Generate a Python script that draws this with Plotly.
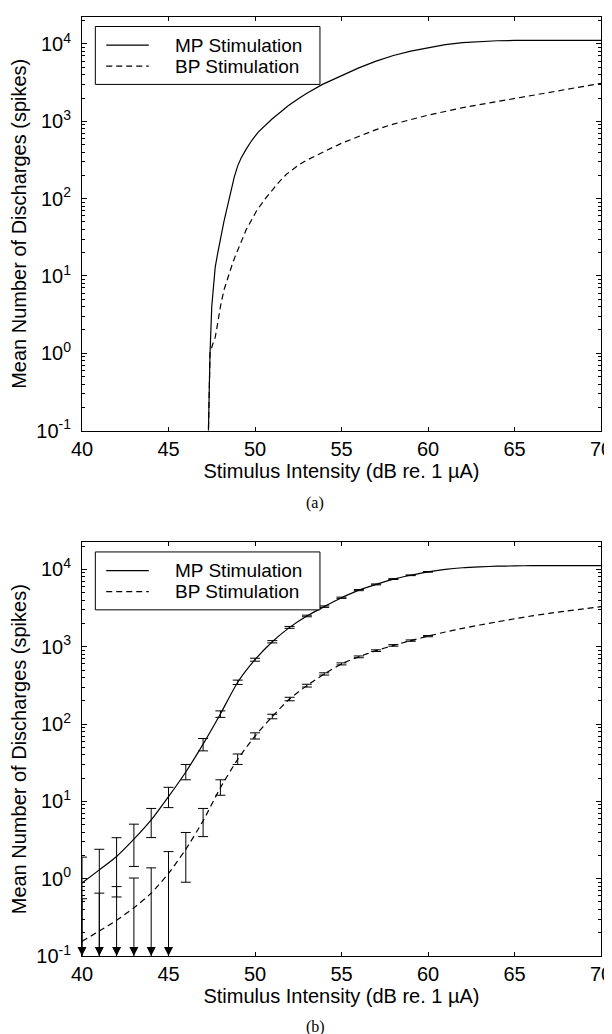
import plotly.graph_objects as go

# ---------------- data ----------------
# panel (a): deterministic-model curves
a_mp_x = [47.30, 47.35, 47.40, 47.50, 47.60, 47.70, 47.85, 48.00, 48.20, 48.40, 48.60, 48.80,
          49.00, 49.20, 49.50, 49.80, 50.20, 50.60, 51.00, 51.50, 51.90, 52.50, 53.00, 53.90,
          55.00, 56.00, 57.00, 58.00, 59.00, 60.00, 61.00, 62.00, 63.00, 64.00, 65.00, 70.00]
a_mp_y = [0.08, 0.3, 1.0, 4.0, 8.0, 13, 20, 30, 50, 78, 125, 190,
          265, 335, 440, 560, 730, 900, 1080, 1330, 1580, 1950, 2300, 3000,
          3900, 4900, 6000, 7100, 8100, 9000, 9800, 10400, 10800, 11000, 11100, 11100]
a_bp_x = [47.30, 47.35, 47.40, 47.55, 47.70, 47.85, 48.00, 48.20, 48.45, 48.70, 48.90, 49.20,
          49.50, 49.80, 50.10, 50.60, 51.00, 51.40, 51.80, 52.20, 52.60, 53.00, 53.50, 53.90,
          54.50, 55.00, 56.00, 57.00, 58.00, 59.00, 60.00, 62.00, 64.00, 66.00, 68.00, 70.00]
a_bp_y = [0.08, 0.4, 1.0, 1.3, 1.6, 2.5, 4.0, 6.5, 10, 14.5, 19, 28,
          40, 53, 70, 100, 130, 165, 205, 240, 280, 315, 360, 400,
          460, 520, 640, 780, 920, 1060, 1200, 1500, 1800, 2150, 2550, 3100]

# panel (b): stochastic-model curves with error bars
b_x = list(range(40, 71))
b_mp = [0.88, 1.30, 1.94, 3.24, 5.75, 11.5, 24, 55, 135, 347, 680, 1160, 1780, 2500, 3300,
        4300, 5400, 6400, 7500, 8400, 9300, 10000, 10500, 10800, 11000, 11100, 11200, 11200,
        11200, 11200, 11200]
b_bp = [0.155, 0.21, 0.29, 0.42, 0.65, 1.17, 2.4, 5.6, 15, 35, 70, 125, 211, 314, 444,
        600, 740, 890, 1040, 1200, 1370, 1550, 1730, 1910, 2100, 2300, 2500, 2700, 2900,
        3080, 3300]

bar_x = list(range(40, 61))
# upper / lower ends of the error bars (None = lower end below zero, drawn as arrow)
b_mp_hi = [1.9, 2.4, 3.39, 5.07, 8.1, 15.2, 30, 65, 148, 370, 710, 1200, 1830, 2560, 3370,
           4380, 5490, 6490, 7590, 8490, 9390]
b_mp_lo = [None, None, 0.58, 1.44, 3.4, 8.3, 19, 45, 122, 325, 650, 1120, 1730, 2440, 3230,
           4220, 5310, 6310, 7410, 8310, 9210]
b_bp_hi = [0.55, 0.65, 0.79, 1.02, 1.38, 2.24, 3.96, 8.1, 19, 41, 77, 134, 222, 327, 460,
           618, 760, 912, 1065, 1225, 1395]
b_bp_lo = [None, None, None, None, None, None, 0.90, 3.5, 12, 30, 64, 117, 200, 301, 430,
           582, 720, 868, 1015, 1175, 1345]

series_names = ["MP Stimulation", "BP Stimulation"]
panel_labels = ["(a)", "(b)"]
x_tickvals = [40, 45, 50, 55, 60, 65, 70]
y_tickvals = [0.1, 1, 10, 100, 1000, 10000]
y_ticktext = ["10<sup>-1</sup>", "10<sup>0</sup>", "10<sup>1</sup>", "10<sup>2</sup>",
              "10<sup>3</sup>", "10<sup>4</sup>"]

# ---------------- layout geometry ----------------
W, H = 612, 1034
ML, MR, MT, MB = 74, 13, 8, 86
PW, PH = W - ML - MR, H - MT - MB
PLOT_H = 414
Y_RANGE = [-1, -1 + PLOT_H / 77.4]
X_RANGE = [40, 70]
FONT = "Liberation Sans, Arial, Helvetica, sans-serif"


def py2paper(py):
    return 1 - (py - MT) / PH


def px2paper(px):
    return (px - ML) / PW


top_dom = [1 - PLOT_H / PH, 1.0]
bot_dom = [0.0, PLOT_H / PH]

fig = go.Figure()

solid = dict(color="black", width=1.2)
dashed = dict(color="black", width=1.2, dash="6px,4px")

# panel (a)
fig.add_trace(go.Scatter(x=a_mp_x, y=a_mp_y, mode="lines", line=solid, name=series_names[0],
                         showlegend=False, xaxis="x", yaxis="y"))
fig.add_trace(go.Scatter(x=a_bp_x, y=a_bp_y, mode="lines", line=dashed, name=series_names[1],
                         showlegend=False, xaxis="x", yaxis="y"))

# panel (b) lines
fig.add_trace(go.Scatter(x=b_x, y=b_mp, mode="lines", line=dict(solid, shape="spline", smoothing=0.6),
                         name=series_names[0], showlegend=False, xaxis="x2", yaxis="y2"))
fig.add_trace(go.Scatter(x=b_x, y=b_bp, mode="lines", line=dict(dashed, shape="spline", smoothing=0.6),
                         name=series_names[1], showlegend=False, xaxis="x2", yaxis="y2"))

# panel (b) error bars
mp_at = dict(zip(b_x, b_mp))
bp_at = dict(zip(b_x, b_bp))
arrow_x = []
for vals_at, hi, lo, nm in [(mp_at, b_mp_hi, b_mp_lo, series_names[0]),
                            (bp_at, b_bp_hi, b_bp_lo, series_names[1])]:
    yc = [vals_at[x] for x in bar_x]
    plus = [h - y for h, y in zip(hi, yc)]
    minus = [(y - l) if l is not None else y for l, y in zip(lo, yc)]
    arrow_x += [x for x, l in zip(bar_x, lo) if l is None]
    fig.add_trace(go.Scatter(
        x=bar_x, y=yc, mode="markers", marker=dict(size=1, color="rgba(0,0,0,0)"),
        error_y=dict(type="data", symmetric=False, array=plus, arrayminus=minus,
                     color="black", thickness=1, width=5),
        name=nm, showlegend=False, hoverinfo="skip", xaxis="x2", yaxis="y2"))

arrow_x = sorted(set(arrow_x))
fig.add_trace(go.Scatter(
    x=arrow_x, y=[10 ** Y_RANGE[0]] * len(arrow_x), mode="markers",
    marker=dict(symbol="arrow-down", size=9, color="black", line=dict(width=0)),
    cliponaxis=False, showlegend=False, hoverinfo="skip", xaxis="x2", yaxis="y2"))

minor_vals = [k * 10 ** e for e in range(-1, 5) for k in range(2, 10)]

xaxis_common = dict(
    range=X_RANGE, tickvals=x_tickvals, ticks="inside", ticklen=4, tickcolor="black",
    showline=True, linecolor="black", linewidth=1, mirror="ticks", showgrid=False,
    zeroline=False, tickfont=dict(family=FONT, size=20, color="black"),
    title=dict(text="Stimulus Intensity (dB re. 1 \u00b5A)",
               font=dict(family=FONT, size=20, color="black"), standoff=2),
)
yaxis_common = dict(
    type="log", range=Y_RANGE, tickvals=y_tickvals, ticktext=y_ticktext,
    ticks="inside", ticklen=5, tickcolor="black",
    minor=dict(tickvals=minor_vals, ticks="inside", ticklen=3, tickcolor="black", showgrid=False),
    showline=True, linecolor="black", linewidth=1, mirror="ticks", showgrid=False,
    zeroline=False, tickfont=dict(family=FONT, size=20, color="black"),
    ticklabelstandoff=6,
    title=dict(text="Mean Number of Discharges (spikes)",
               font=dict(family=FONT, size=20, color="black"), standoff=4),
)

fig.update_layout(
    width=W, height=H, margin=dict(l=ML, r=MR, t=MT, b=MB),
    paper_bgcolor="white", plot_bgcolor="white", showlegend=False,
    font=dict(family=FONT, size=20, color="black"),
    xaxis=dict(xaxis_common, domain=[0, 1], anchor="y"),
    yaxis=dict(yaxis_common, domain=top_dom, anchor="x"),
    xaxis2=dict(xaxis_common, domain=[0, 1], anchor="y2"),
    yaxis2=dict(yaxis_common, domain=bot_dom, anchor="x2"),
)

# legends (drawn inside each panel) and panel labels
box_x = [0.0257, 0.4585]
box_y = [0.8370, 0.9770]
row_y = [0.9320, 0.8810]
line_x = [0.0467, 0.1287]
text_x = 0.1764
for xr, yr in [("x", "y"), ("x2", "y2")]:
    fig.add_shape(type="rect", xref=f"{xr} domain", yref=f"{yr} domain",
                  x0=box_x[0], x1=box_x[1], y0=box_y[0], y1=box_y[1],
                  line=dict(color="black", width=1), fillcolor="white", layer="above")
    for i, (nm, ln) in enumerate(zip(series_names, [solid, dashed])):
        fig.add_shape(type="line", xref=f"{xr} domain", yref=f"{yr} domain",
                      x0=line_x[0], x1=line_x[1], y0=row_y[i], y1=row_y[i],
                      line=ln, layer="above")
        fig.add_annotation(text=nm, xref=f"{xr} domain", yref=f"{yr} domain",
                           x=text_x, y=row_y[i], xanchor="left", yanchor="middle",
                           showarrow=False, borderpad=0,
                           font=dict(family=FONT, size=19, color="black"))

for lab, py in zip(panel_labels, [495, 1019]):
    fig.add_annotation(text=lab, xref="paper", yref="paper", x=px2paper(310), y=py2paper(py),
                       xanchor="center", yanchor="middle", showarrow=False, borderpad=0,
                       font=dict(family="Liberation Serif, Times New Roman, serif", size=16,
                                 color="black"))

fig.write_html("out.html")
